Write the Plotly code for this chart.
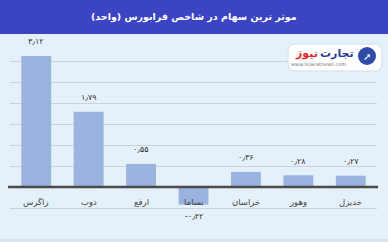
import plotly.graph_objects as go

categories = ["زاگرس", "ذوب", "ارفع", "بساما", "خراسان", "وهور", "خدیزل"]
values = [3.12, 1.79, 0.55, -0.42, 0.36, 0.28, 0.27]
title_text = "موثر ترین سهام در شاخص فرابورس (واحد)"

W, H = 388, 242
ML, MR, MT, MB = 10, 11, 40, 13
PW, PH = W - ML - MR, H - MT - MB

def px(x):
    return (x - ML) / PW

def py(y):
    return (H - MB - y) / PH

FA = str.maketrans("0123456789.", "۰۱۲۳۴۵۶۷۸۹٫")

def fa_num(v):
    return f"{v:.2f}".translate(FA)

FONT = "DejaVu Sans"
BG = "#E4F0FA"
BAR = "#9AB3DF"

fig = go.Figure(go.Bar(
    x=categories, y=values, marker=dict(color=BAR, line=dict(width=0)),
    hoverinfo="skip",
))

annotations = []
for c, v in zip(categories, values):
    annotations.append(dict(
        x=c, y=v, xref="x", yref="y", text=fa_num(v), showarrow=False,
        yshift=14 if v >= 0 else -12, yanchor="middle",
        font=dict(family=FONT, size=8, color="#333333"),
    ))
    annotations.append(dict(
        x=c, y=0, xref="x", yref="y", text=c, showarrow=False,
        yshift=-15, yanchor="middle",
        font=dict(family=FONT, size=8.5, color="#444444"),
    ))

# title
annotations.append(dict(
    x=px(W / 2), y=py(17), xref="paper", yref="paper",
    text="<b>\u202b" + title_text + "\u202c</b>", showarrow=False,
    font=dict(family=FONT, size=9.5, color="#FFFFFF"),
    xanchor="center", yanchor="middle",
))
# logo texts
annotations += [
    dict(x=px(337), y=py(53), xref="paper", yref="paper", text="<b>تجارت</b>",
         showarrow=False, font=dict(family=FONT, size=11, color="#2B3B9C"),
         xanchor="center", yanchor="middle"),
    dict(x=px(306), y=py(53), xref="paper", yref="paper", text="<b>نیوز</b>",
         showarrow=False, font=dict(family=FONT, size=11, color="#E0262B"),
         xanchor="center", yanchor="middle"),
    dict(x=px(318), y=py(64), xref="paper", yref="paper", text="www.tejaratnews.com",
         showarrow=False, font=dict(family=FONT, size=5, color="#777777"),
         xanchor="center", yanchor="middle"),
    dict(x=px(367), y=py(56), xref="paper", yref="paper", text="<b>➚</b>",
         showarrow=False, font=dict(family=FONT, size=10, color="#FFFFFF"),
         xanchor="center", yanchor="middle"),
]

def rrect(x0, y0, x1, y1, r):
    X = lambda v: px(v)
    Y = lambda v: py(v)
    return (f"M {X(x0+r)},{Y(y0)} L {X(x1-r)},{Y(y0)} Q {X(x1)},{Y(y0)} {X(x1)},{Y(y0+r)} "
            f"L {X(x1)},{Y(y1-r)} Q {X(x1)},{Y(y1)} {X(x1-r)},{Y(y1)} "
            f"L {X(x0+r)},{Y(y1)} Q {X(x0)},{Y(y1)} {X(x0)},{Y(y1-r)} "
            f"L {X(x0)},{Y(y0+r)} Q {X(x0)},{Y(y0)} {X(x0+r)},{Y(y0)} Z")

shapes = [
    # title bar
    dict(type="rect", xref="paper", yref="paper", x0=px(0), x1=px(W), y0=py(34), y1=py(0),
         fillcolor="#3B44C3", line=dict(width=0), layer="below"),
    # bottom strip
    dict(type="rect", xref="paper", yref="paper", x0=px(0), x1=px(W), y0=py(H), y1=py(239),
         fillcolor="#D9E3EC", line=dict(width=0), layer="below"),
    # logo box
    dict(type="path", xref="paper", yref="paper", path=rrect(288, 44, 382, 71, 8),
         fillcolor="#FFFFFF", line=dict(color="#D6DEE6", width=1), layer="above"),
    dict(type="circle", xref="paper", yref="paper", x0=px(358), x1=px(376), y0=py(65), y1=py(47),
         fillcolor="#2E4CA8", line=dict(width=0), layer="above"),
    # zero line
    dict(type="line", xref="paper", yref="y", x0=px(8), x1=px(378), y0=0, y1=0,
         line=dict(color="#4A4A4A", width=2.5), layer="above"),
]

fig.update_layout(
    width=W, height=H,
    margin=dict(l=ML, r=MR, t=MT, b=MB, pad=0),
    paper_bgcolor=BG, plot_bgcolor=BG,
    bargap=0.43,
    showlegend=False,
    xaxis=dict(showticklabels=False, showgrid=False, zeroline=False, showline=False,
               fixedrange=True),
    yaxis=dict(range=[-1.0, 3.5], dtick=0.5, tick0=0, showticklabels=False,
               showgrid=True, gridcolor="#CAD3DC", gridwidth=1,
               zeroline=False, showline=False, fixedrange=True),
    annotations=annotations,
    shapes=shapes,
)

fig.write_html("out.html")
